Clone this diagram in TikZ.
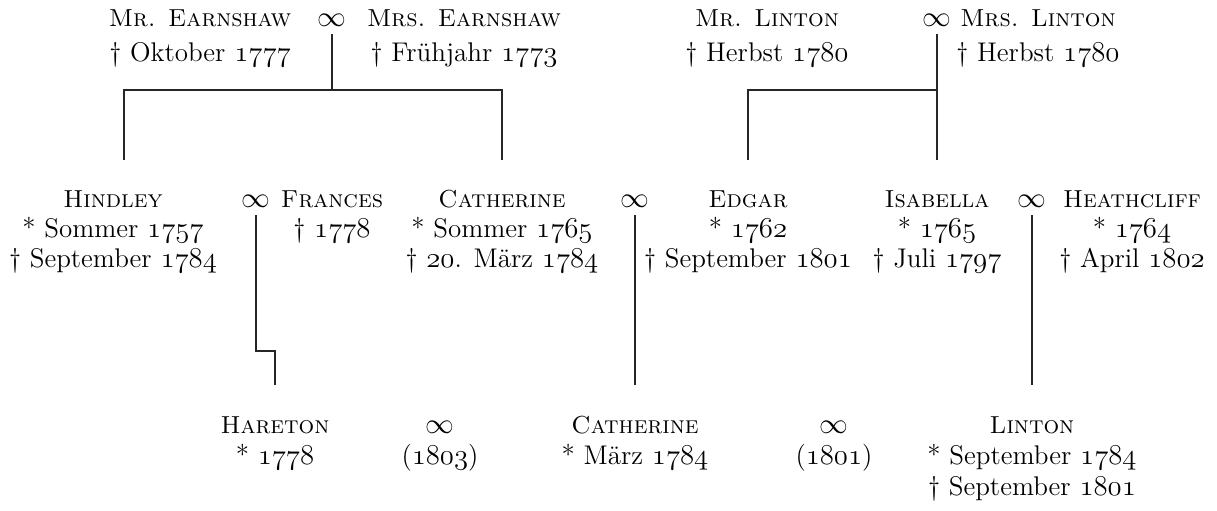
\documentclass[tikz,border=0pt]{standalone}
\newcommand\osn[1]{{\usefont{OML}{cmm}{m}{it}#1}}
\newcommand\nm[1]{{\fontsize{12.3}{15}\selectfont\textsc{#1}}}
\newcommand\rowa{\fontsize{13.5}{17.5}\selectfont}
\newcommand\rowb{\fontsize{13.5}{15}\selectfont}
\newcommand\rowc{\fontsize{13.5}{15.5}\selectfont}
\newcommand\pers[1]{\begin{tabular}[t]{@{}c@{}}#1\end{tabular}}
\tikzset{
  person/.style={anchor=base, inner sep=0pt},
  mar/.style={anchor=base, inner sep=0pt, outer ysep=4pt},
  line/.style={line width=0.6pt, draw=black!85},
}
\begin{document}
\begin{tikzpicture}[x=0.5pt,y=-0.5pt]
\useasboundingbox (0,0) rectangle (1217,510);
% generation 1
\node[person,font=\rowa] (mre)  at (200,26) {\pers{\nm{Mr. Earnshaw}\\ † Oktober \osn{1777}}};
\node[mar,font=\rowa]    (i1)   at (332,26) {$\infty$};
\node[person,font=\rowa] (mrse) at (464,26) {\pers{\nm{Mrs. Earnshaw}\\ † Frühjahr \osn{1773}}};
\node[person,font=\rowa] (mrl)  at (767,26) {\pers{\nm{Mr. Linton}\\ † Herbst \osn{1780}}};
\node[mar,font=\rowa]    (i2)   at (937,26) {$\infty$};
\node[person,font=\rowa] (mrsl) at (1038,26) {\pers{\nm{Mrs. Linton}\\ † Herbst \osn{1780}}};
% generation 2
\node[person,font=\rowb] (hindley)  at (113,207) {\pers{\nm{Hindley}\\ {*} Sommer \osn{1757}\\ † September \osn{1784}}};
\node[mar,font=\rowb]    (i3)       at (256,207) {$\infty$};
\node[person,font=\rowb] (frances)  at (332,207) {\pers{\nm{Frances}\\ † \osn{1778}}};
\node[person,font=\rowb] (cath1)    at (502,207) {\pers{\nm{Catherine}\\ {*} Sommer \osn{1765}\\ † \osn{20}. März \osn{1784}}};
\node[mar,font=\rowb]    (i4)       at (635,207) {$\infty$};
\node[person,font=\rowb] (edgar)    at (748,207) {\pers{\nm{Edgar}\\ {*} \osn{1762}\\ † September \osn{1801}}};
\node[person,font=\rowb] (isabella) at (937,207) {\pers{\nm{Isabella}\\ {*} \osn{1765}\\ † Juli \osn{1797}}};
\node[mar,font=\rowb]    (i5)       at (1032,207) {$\infty$};
\node[person,font=\rowb] (heath)    at (1132,207) {\pers{\nm{Heathcliff}\\ {*} \osn{1764}\\ † April \osn{1802}}};
% generation 3
\node[person,font=\rowc] (hareton) at (275,433) {\pers{\nm{Hareton}\\ {*} \osn{1778}}};
\node[person,font=\rowc] (i6)      at (440,433) {\pers{$\infty$\\ (\osn{1803})}};
\node[person,font=\rowc] (cath2)   at (635,433) {\pers{\nm{Catherine}\\ {*} März \osn{1784}}};
\node[person,font=\rowc] (i7)      at (834,433) {\pers{$\infty$\\ (\osn{1801})}};
\node[person,font=\rowc] (linton)  at (1032,433) {\pers{\nm{Linton}\\ {*} September \osn{1784}\\ † September \osn{1801}}};
% helper levels
\coordinate (ebar) at (0,90);
\coordinate (hk)   at (0,351);
\path ([xshift=5.5pt,yshift=13pt]hindley.north) coordinate (h1);
\path ([yshift=13pt]cath1.north) coordinate (c1);
\path ([yshift=13pt]edgar.north) coordinate (e1);
\path ([yshift=13pt]isabella.north) coordinate (is1);
\path ([yshift=13pt]hareton.north) coordinate (ha1);
\path ([yshift=13pt]cath2.north) coordinate (c2);
\path ([yshift=13pt]linton.north) coordinate (l1);
% connectors
\draw[line] (i1.south) -- (i1.south |- ebar);
\draw[line] (h1) |- (c1 |- ebar) -- (c1);
\draw[line] (i2.south) -- (is1);
\draw[line] (e1) |- (i2.south |- ebar);
\draw[line] (i3.south) -- (i3.south |- hk) -| (ha1);
\draw[line] (i4.south) -- (c2);
\draw[line] (i5.south) -- (l1);
\end{tikzpicture}
\end{document}
